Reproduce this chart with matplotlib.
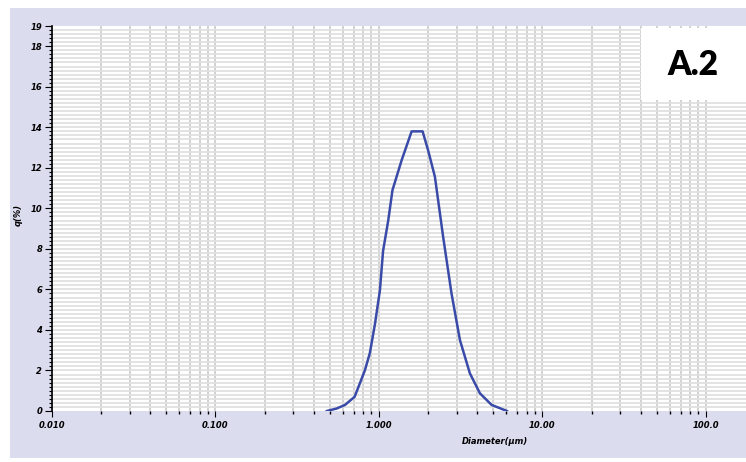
import matplotlib
matplotlib.use("Agg")
import matplotlib.pyplot as plt
import numpy as np
from matplotlib.patches import Rectangle
from matplotlib.ticker import FixedLocator, NullFormatter

# Data
diameter_um = [0.48, 0.55, 0.62, 0.71, 0.82, 0.88, 0.946, 1.014, 1.06, 1.14, 1.21,
               1.38, 1.585, 1.85, 2.0, 2.2, 2.47, 2.78, 3.13, 3.6, 4.15, 4.89, 6.07]
q_percent = [0.0, 0.12, 0.3, 0.7, 2.0, 2.86, 4.3, 5.96, 7.9, 9.4, 10.9,
             12.4, 13.8, 13.8, 12.86, 11.56, 8.6, 5.8, 3.5, 1.86, 0.87, 0.3, 0.0]
x_major = [0.01, 0.1, 1.0, 10.0, 100.0]
x_major_labels = ["0.010", "0.100", "1.000", "10.00", "100.0"]
y_major = [0, 2, 4, 6, 8, 10, 12, 14, 16, 18, 19]
y_major_labels = ["0", "2", "4", "6", "8", "10", "12", "14", "16", "18", "19"]
panel_label = "A.2"

W, H = 746, 462
fig = plt.figure(figsize=(W / 100, H / 100), dpi=100)
fig.patch.set_facecolor("white")

# lavender panel
fig.patches.append(Rectangle((10 / W, 4 / H), 1 - 10 / W, (454 - 4) / H,
                             transform=fig.transFigure, facecolor="#dcdcef",
                             edgecolor="none", zorder=0))

ax = fig.add_axes([52 / W, (H - 411) / H, 1 - 52 / W, (411 - 26) / H])
ax.set_zorder(2)
ax.set_facecolor("white")
ax.set_xscale("log")
ax.set_xlim(0.01, 176)
ax.set_ylim(0, 19)

# grid lines
minor_x = [m * 10.0 ** k for k in range(-2, 3) for m in range(2, 10)]
minor_x = [v for v in minor_x if v < 176]
for v in minor_x + x_major:
    ax.axvline(v, color="#c6c6c6", lw=1.1, zorder=1)
for yv in np.arange(0.2, 19.0, 0.2):
    ax.axhline(yv, color="#e0e0e0", lw=1.3, zorder=1)

ax.plot(diameter_um, q_percent, color="#3a4aa8", lw=1.8, zorder=3,
        solid_joinstyle="round")

for s in ["top", "right", "bottom"]:
    ax.spines[s].set_visible(False)
ax.spines["left"].set_color("black")
ax.spines["left"].set_linewidth(1.2)

tick_font = dict(fontsize=6, fontweight="bold", fontstyle="italic")
ax.xaxis.set_major_locator(FixedLocator(x_major))
ax.set_xticklabels(x_major_labels, **tick_font)
ax.xaxis.set_minor_locator(FixedLocator(minor_x))
ax.xaxis.set_minor_formatter(NullFormatter())
ax.tick_params(axis="x", which="major", length=4, width=0.8, direction="out", pad=3)
ax.tick_params(axis="x", which="minor", length=2, width=1.0, direction="out")

ax.yaxis.set_major_locator(FixedLocator(y_major))
ax.set_yticklabels(y_major_labels, **tick_font)
ax.yaxis.set_minor_locator(FixedLocator(list(np.arange(0.2, 19.0, 0.2))))
ax.tick_params(axis="y", which="major", length=5, width=0.8, pad=2)
ax.tick_params(axis="y", which="minor", length=2.5, width=0.8)

fig.text(495 / W, 1 - 441 / H, "Diameter(µm)", ha="center", va="center",
         fontsize=6, fontweight="bold", fontstyle="italic")
fig.text(18 / W, 1 - 215 / H, "q(%)", ha="center", va="center", rotation=90,
         fontsize=6, fontweight="bold", fontstyle="italic")

# panel label box (drawn above the axes)
fig.patches.append(Rectangle((641 / W, 1 - 100 / H), (746 - 641) / W, 72 / H,
                             transform=fig.transFigure, facecolor="white",
                             edgecolor="none", zorder=5))
fig.text(693 / W, 1 - 65 / H, panel_label, ha="center", va="center",
         fontsize=24, fontweight="heavy", family="Lato", zorder=6)

fig.savefig("out.png", dpi=100)
